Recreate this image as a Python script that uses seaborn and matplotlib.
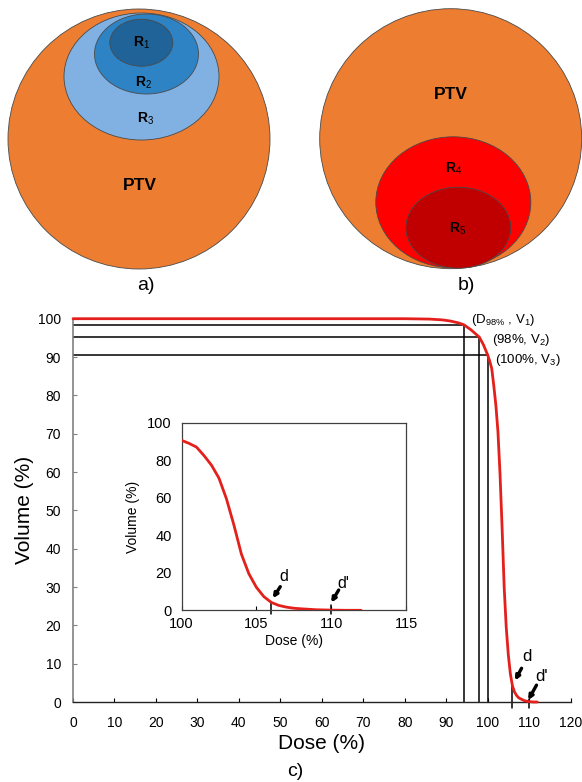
import matplotlib
matplotlib.use("Agg")
import matplotlib.pyplot as plt
from matplotlib.patches import Ellipse
import seaborn as sns

# --- chart values ---
dose_pts = [0, 80, 86, 89, 91, 93, 94.3, 96, 98, 99, 100, 100.5, 101, 101.5, 102,
            102.5, 103, 103.5, 104, 104.5, 105, 105.5, 106, 106.5, 107, 107.5,
            108, 109, 110, 111, 112]
volume_pts = [100, 100, 99.9, 99.7, 99.4, 98.9, 98.4, 97.1, 95.2, 93.2, 90.6, 89.0,
              87.0, 82.5, 77.4, 70.5, 59.5, 45.5, 30.0, 19.5, 12.3, 7.3, 4.2, 2.6,
              1.7, 1.1, 0.8, 0.3, 0.1, 0.0, 0.0]

ref_dose = [94.3, 98, 100]
ref_volume = [98.4, 95.2, 90.6]
ref_labels = [r"(D$_{\mathrm{98\%}}$ , V$_{\mathrm{1}}$)",
              r"(98%, V$_{\mathrm{2}}$)",
              r"(100%, V$_{\mathrm{3}}$)"]

d_marks = [106, 110]
d_labels = ["d", "d'"]

x_ticks = list(range(0, 121, 10))
y_ticks = list(range(0, 101, 10))
inset_x_ticks = [100, 105, 110, 115]
inset_y_ticks = [0, 20, 40, 60, 80, 100]

sns.set_style("ticks")
plt.rcParams["font.family"] = ["Liberation Sans", "DejaVu Sans"]
plt.rcParams["mathtext.fontset"] = "custom"
plt.rcParams["mathtext.rm"] = "Liberation Sans"
plt.rcParams["mathtext.it"] = "Liberation Sans"
plt.rcParams["mathtext.bf"] = "Liberation Sans:bold"
plt.rcParams["text.color"] = "black"
plt.rcParams["axes.labelcolor"] = "black"
plt.rcParams["xtick.color"] = "black"
plt.rcParams["ytick.color"] = "black"

W, H = 582, 782
fig = plt.figure(figsize=(W / 100, H / 100), dpi=100)

# --- panels a) and b): nested regions drawn in pixel space ---
top = fig.add_axes([0, 0, 1, 1])
top.set_xlim(0, W)
top.set_ylim(H, 0)
top.axis("off")

orange = "#ED7D31"
shapes = [
    # (cx, cy, w, h, colour)
    (139, 139, 262, 260, orange),
    (141.5, 76.5, 155, 127, "#80B1E2"),
    (146.5, 54, 104, 80, "#2E83C5"),
    (141.3, 42.7, 63, 47, "#1F6398"),
    (450.7, 138.7, 262, 260, orange),
    (453.3, 202.3, 155, 131, "#FF0000"),
    (458.3, 227.7, 105, 81, "#C00000"),
]
for cx, cy, w, h, c in shapes:
    top.add_patch(Ellipse((cx, cy), w, h, facecolor=c, edgecolor="#4a4a4a", lw=0.6))

region_text = [
    (141.7, 43.3, r"$\mathbf{R}_{\mathrm{1}}$"),
    (143.3, 82.7, r"$\mathbf{R}_{\mathrm{2}}$"),
    (146, 119.3, r"$\mathbf{R}_{\mathrm{3}}$"),
    (453.3, 169.3, r"$\mathbf{R}_{\mathrm{4}}$"),
    (457.3, 229.3, r"$\mathbf{R}_{\mathrm{5}}$"),
]
for x, y, s in region_text:
    top.text(x, y, s, ha="center", va="center", fontsize=10)
top.text(140, 185, "PTV", ha="center", va="center", fontsize=12.5, fontweight="bold")
top.text(450.7, 94.3, "PTV", ha="center", va="center", fontsize=12.5, fontweight="bold")
top.text(146, 286, "a)", ha="center", va="center", fontsize=14)
top.text(466.7, 285, "b)", ha="center", va="center", fontsize=14)
top.text(295, 772, "c)", ha="center", va="center", fontsize=14)

arrow_kw = dict(arrowstyle="-|>", lw=2.4, color="black", mutation_scale=6,
                shrinkA=0, shrinkB=0)

# --- panel c): main DVH ---
ax = fig.add_axes([73 / W, 1 - 702 / H, 497.5 / W, 383.3 / H])
ax.set_facecolor("white")

for d, v in zip(ref_dose, ref_volume):
    ax.plot([0, d], [v, v], color="black", lw=1.1)
    ax.plot([d, d], [0, v], color="black", lw=1.1)
sns.lineplot(x=dose_pts, y=volume_pts, ax=ax, color="#E3201B", lw=2.0, clip_on=False, zorder=5)

for d in d_marks:
    ax.plot([d, d], [-1.6, 4.5 if d == 106 else 0.8], color="black", lw=1.1, clip_on=False)

ax.annotate("", xy=(106.6, 5.6), xytext=(108.2, 8.8), arrowprops=arrow_kw)
ax.annotate("", xy=(109.8, 0.5), xytext=(111.8, 4.4), arrowprops=arrow_kw,
            annotation_clip=False)
ax.text(109.6, 12.0, d_labels[0], ha="center", va="center", fontsize=12)
ax.text(113.0, 6.6, d_labels[1], ha="center", va="center", fontsize=12)

label_pos = [(95.9, 99.7), (101.0, 94.4), (101.8, 89.2)]
for (x, y), s in zip(label_pos, ref_labels):
    ax.text(x, y, s, ha="left", va="center", fontsize=9.5)

ax.set_xlim(0, 120)
ax.set_ylim(0, 100)
ax.set_xticks(x_ticks)
ax.set_yticks(y_ticks)
ax.tick_params(direction="in", length=3, labelsize=10, width=0.8)
ax.tick_params(axis="x", pad=10)
ax.tick_params(axis="y", pad=8.5, color="#808080")
sns.despine(ax=ax)
ax.spines["left"].set_color("#808080")
ax.spines["left"].set_linewidth(1.2)
ax.spines["bottom"].set_color("#222222")
ax.spines["bottom"].set_linewidth(1.0)
ax.set_xlabel("Dose (%)", fontsize=15, labelpad=3)
ax.set_ylabel("Volume (%)", fontsize=15, labelpad=3)

# --- inset zoom on the tail ---
ins = fig.add_axes([181.5 / W, 1 - 610.3 / H, 224.5 / W, 187.6 / H])
ins.set_facecolor("white")
sns.lineplot(x=dose_pts, y=volume_pts, ax=ins, color="#E3201B", lw=2.0, zorder=5)
for d in d_marks:
    ins.plot([d, d], [-2, 4.6 if d == 106 else 2.8], color="black", lw=1.1, clip_on=False)
ins.annotate("", xy=(106.1, 6.4), xytext=(106.6, 12.6), arrowprops=arrow_kw)
ins.annotate("", xy=(110.0, 4.1), xytext=(110.5, 10.8), arrowprops=arrow_kw)
ins.text(106.85, 17.9, d_labels[0], ha="center", va="center", fontsize=11.5)
ins.text(110.8, 14.4, d_labels[1], ha="center", va="center", fontsize=11.5)

ins.set_xlim(100, 115)
ins.set_ylim(0, 100)
ins.set_xticks(inset_x_ticks)
ins.set_yticks(inset_y_ticks)
ins.tick_params(direction="in", length=3, labelsize=10.5, pad=5, width=0.8)
ins.tick_params(axis="y", length=0, pad=7)
for s in ins.spines.values():
    s.set_color("#404040")
    s.set_linewidth(0.9)
ins.set_xlabel("Dose (%)", fontsize=10, labelpad=2)
ins.set_ylabel("Volume (%)", fontsize=10, labelpad=5)

fig.savefig("out.png", dpi=100)
